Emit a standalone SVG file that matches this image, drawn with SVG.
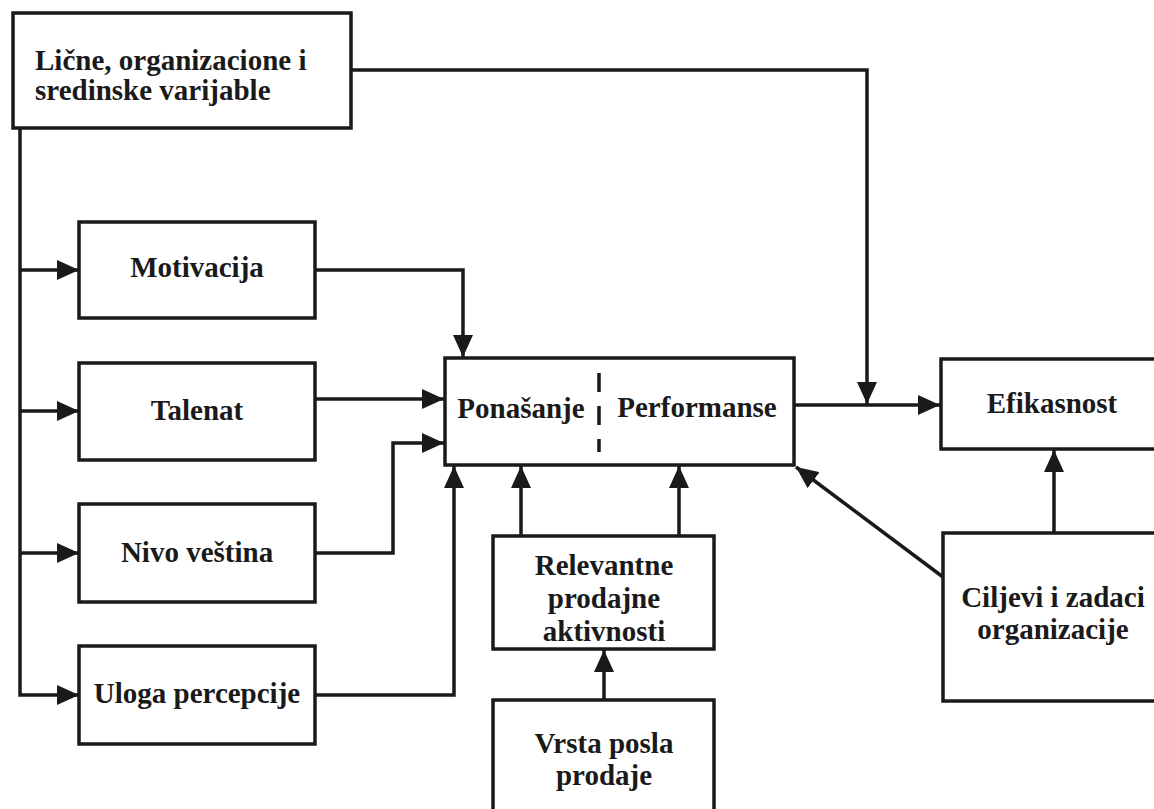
<svg xmlns="http://www.w3.org/2000/svg" width="1154" height="809" viewBox="0 0 1154 809">
<style>
.box{fill:#fff;stroke:#1a1a1a;stroke-width:3.5}
.t{font-family:"Liberation Serif","Times New Roman",serif;font-weight:bold;font-size:29px;fill:#1a1a1a;text-anchor:middle}
.e{fill:none;stroke:#1a1a1a;stroke-width:3.5}
</style>
<defs>
<marker id="ah" markerUnits="userSpaceOnUse" markerWidth="22" markerHeight="20" refX="22" refY="10" orient="auto" viewBox="0 0 22 20">
<path d="M0,0 L22,10 L0,20 Z" fill="#1a1a1a"/>
</marker>
</defs>
<rect width="1154" height="809" fill="#fff"/>
<g id="connectors">
<path class="e" d="M20,128 V695 H79" marker-end="url(#ah)"/>
<path class="e" d="M20,270 H79" marker-end="url(#ah)"/>
<path class="e" d="M20,411 H79" marker-end="url(#ah)"/>
<path class="e" d="M20,553 H79" marker-end="url(#ah)"/>
<path class="e" d="M351,70 H867 V404" marker-end="url(#ah)"/>
<path class="e" d="M315,270 H463 V357" marker-end="url(#ah)"/>
<path class="e" d="M315,399 H444" marker-end="url(#ah)"/>
<path class="e" d="M315,553 H393 V443 H444" marker-end="url(#ah)"/>
<path class="e" d="M315,695 H454 V466" marker-end="url(#ah)"/>
<path class="e" d="M521,536 V466" marker-end="url(#ah)"/>
<path class="e" d="M679,536 V466" marker-end="url(#ah)"/>
<path class="e" d="M604,700 V650" marker-end="url(#ah)"/>
<path class="e" d="M794,405 H940" marker-end="url(#ah)"/>
<path class="e" d="M1054,533 V450" marker-end="url(#ah)"/>
<path class="e" d="M943,577 L796,467" marker-end="url(#ah)"/>
</g>
<g id="n-top">
<rect class="box" x="13" y="13" width="338" height="115"/>
<text class="t" style="text-anchor:start" x="35" y="70">Lične, organizacione i</text>
<text class="t" style="text-anchor:start" x="35" y="100">sredinske varijable</text>
</g>
<g id="n-motivacija">
<rect class="box" x="79" y="222" width="236" height="96"/>
<text class="t" x="197" y="277">Motivacija</text>
</g>
<g id="n-talenat">
<rect class="box" x="79" y="363" width="236" height="97"/>
<text class="t" x="197" y="420">Talenat</text>
</g>
<g id="n-nivo">
<rect class="box" x="79" y="504" width="236" height="98"/>
<text class="t" x="197" y="562">Nivo veština</text>
</g>
<g id="n-uloga">
<rect class="box" x="79" y="646" width="236" height="98"/>
<text class="t" x="197" y="703">Uloga percepcije</text>
</g>
<g id="n-ponasanje">
<rect class="box" x="445" y="358" width="349" height="107"/>
<line x1="599" y1="373" x2="599" y2="452" stroke="#1a1a1a" stroke-width="3.5" stroke-dasharray="19,14"/>
<text class="t" x="521" y="418">Ponašanje</text>
<text class="t" x="697" y="417">Performanse</text>
</g>
<g id="n-efikasnost">
<rect class="box" x="941" y="359" width="220" height="90"/>
<text class="t" x="1052" y="413">Efikasnost</text>
</g>
<g id="n-relevantne">
<rect class="box" x="493" y="536" width="221" height="113"/>
<text class="t" x="604" y="575">Relevantne</text>
<text class="t" x="604" y="608">prodajne</text>
<text class="t" x="604" y="641">aktivnosti</text>
</g>
<g id="n-vrsta">
<rect class="box" x="493" y="700" width="221" height="120"/>
<text class="t" x="604" y="753">Vrsta posla</text>
<text class="t" x="604" y="785">prodaje</text>
</g>
<g id="n-ciljevi">
<rect class="box" x="943" y="533" width="220" height="168"/>
<text class="t" x="1053" y="607">Ciljevi i zadaci</text>
<text class="t" x="1053" y="639">organizacije</text>
</g>
</svg>
